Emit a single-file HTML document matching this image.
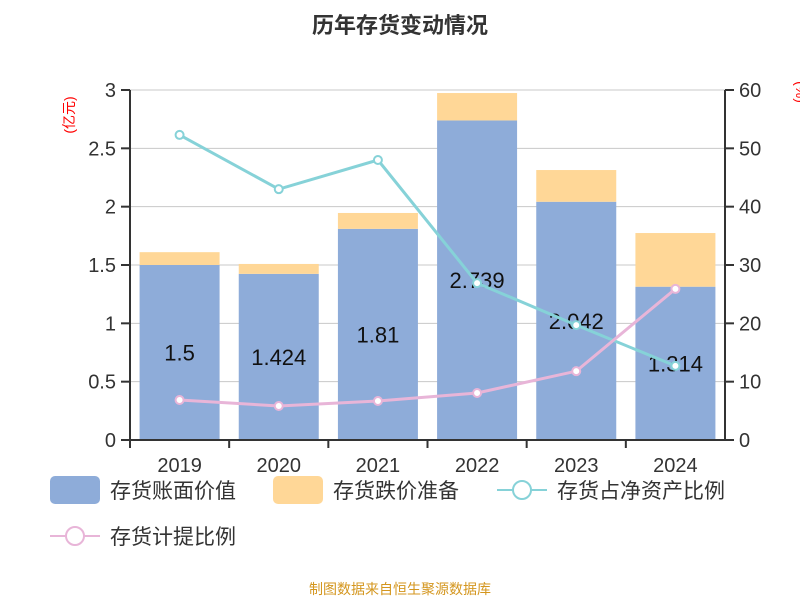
<!DOCTYPE html>
<html><head><meta charset="utf-8"><style>
body{margin:0;background:#fff;font-family:"Liberation Sans","Noto Sans CJK SC",sans-serif}
svg text{font-family:"Liberation Sans","Noto Sans CJK SC",sans-serif}
</style></head><body>
<svg id="c" width="800" height="600" xmlns="http://www.w3.org/2000/svg">
<text x="400" y="33" text-anchor="middle" font-size="22" font-weight="bold" fill="#333">历年存货变动情况</text>
<text transform="translate(74,115) rotate(-90)" text-anchor="middle" font-size="14" fill="#f00">(亿元)</text>
<text transform="translate(796,92) rotate(90)" text-anchor="middle" font-size="14" fill="#f00">(%)</text>
<g id="grid"></g><g id="bars"></g><g id="lines"></g><g id="axes"></g>
<g>
<rect x="50" y="476" width="50" height="28" rx="5" fill="#8eacd9"/>
<text x="110" y="498" font-size="21" fill="#333">存货账面价值</text>
<rect x="273" y="476" width="50" height="28" rx="5" fill="#ffd797"/>
<text x="333" y="498" font-size="21" fill="#333">存货跌价准备</text>
<line x1="497" y1="490" x2="547" y2="490" stroke="#86d2d8" stroke-width="2"/>
<circle cx="522" cy="490" r="9" fill="#fff" stroke="#86d2d8" stroke-width="2"/>
<text x="557" y="498" font-size="21" fill="#333">存货占净资产比例</text>
<line x1="50" y1="536" x2="100" y2="536" stroke="#e8b5d8" stroke-width="2"/>
<circle cx="75" cy="536" r="9" fill="#fff" stroke="#e8b5d8" stroke-width="2"/>
<text x="110" y="544" font-size="21" fill="#333">存货计提比例</text>
</g>
<text x="400" y="594" text-anchor="middle" font-size="14" fill="#d4961e">制图数据来自恒生聚源数据库</text>
</svg>
<script>
const categories=["2019","2020","2021","2022","2023","2024"];
const bookValues=[1.5,1.424,1.81,2.739,2.042,1.314];
const reserveValues=[0.11,0.085,0.136,0.235,0.272,0.46];
const netAssetRatio=[52.3,43.0,48.0,26.9,19.7,12.7];
const provisionRatio=[6.86,5.83,6.69,8.06,11.8,25.9];
const leftTicks=["0","0.5","1","1.5","2","2.5","3"];
const rightTicks=["0","10","20","30","40","50","60"];
const NS="http://www.w3.org/2000/svg";
const L=130,R=725,T=90,B=440,slot=(R-L)/categories.length;
const yL=v=>B-(v/3)*(B-T), yR=v=>B-(v/60)*(B-T), xC=i=>L+slot*(i+0.5);
function mk(p,t,a){const e=document.createElementNS(NS,t);for(const k in a)e.setAttribute(k,a[k]);document.getElementById(p).appendChild(e);return e;}
leftTicks.forEach((t,i)=>{const y=B-i*(B-T)/6;
 if(i>0){const g=mk("grid","line",{x1:L,x2:R,y1:y,y2:y,stroke:"#c8c8c8"});
 
 }
 const tk=mk("axes","line",{x1:L-9,x2:L,y1:y,y2:y,stroke:"#333","stroke-width":2});
 
 
 const lb=mk("axes","text",{x:L-14,y:y+7,"text-anchor":"end","font-size":20,fill:"#333"});lb.textContent=t;
 
 
 const tr=mk("axes","line",{x1:R,x2:R+9,y1:y,y2:y,stroke:"#333","stroke-width":2});
 
 
 const lr=mk("axes","text",{x:R+14,y:y+7,"font-size":20,fill:"#333"});lr.textContent=rightTicks[i];
 
 
});
[[L,"left-axis"],[R,"right-axis"]].forEach(([x,n])=>{const a=mk("axes","line",{x1:x,x2:x,y1:T,y2:B,stroke:"#333","stroke-width":2});
 
 });
const xa=mk("axes","line",{x1:L,x2:R,y1:B,y2:B,stroke:"#333","stroke-width":2});


categories.forEach((c,i)=>{
 const bw=80,x=xC(i)-bw/2;
 const b=mk("bars","rect",{x:x,y:yL(bookValues[i]),width:bw,height:B-yL(bookValues[i]),fill:"#8eacd9"});
 
 
 const top=bookValues[i]+reserveValues[i];
 const r=mk("bars","rect",{x:x,y:yL(top),width:bw,height:yL(bookValues[i])-yL(top),fill:"#ffd797"});
 
 
 const v=mk("bars","text",{x:xC(i),y:yL(bookValues[i]/2)+8,"text-anchor":"middle","font-size":22,fill:"#111"});v.textContent=String(bookValues[i]);
 
 
 const tk=mk("axes","line",{x1:L+slot*i,x2:L+slot*i,y1:B,y2:B+8,stroke:"#333","stroke-width":2});
 
 
 const lb=mk("axes","text",{x:xC(i),y:B+32,"text-anchor":"middle","font-size":20,fill:"#333"});lb.textContent=c;
 
 
});
[[netAssetRatio,"#86d2d8","line-net-asset-ratio"],[provisionRatio,"#e8b5d8","line-provision-ratio"]].forEach(([d,col,n])=>{
 const pl=mk("lines","polyline",{points:d.map((v,i)=>xC(i)+","+yR(v)).join(" "),fill:"none",stroke:col,"stroke-width":3});
 
 
 d.forEach((v,i)=>{const p=mk("lines","circle",{cx:xC(i),cy:yR(v),r:4,fill:"#fff",stroke:col,"stroke-width":2});
 
 });
});
</script>
</body></html>
